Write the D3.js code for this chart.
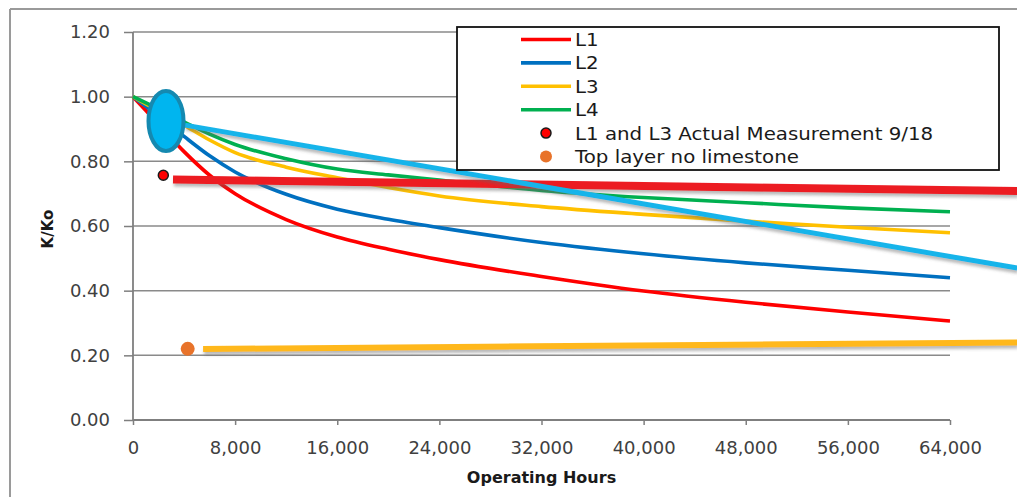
<!DOCTYPE html>
<html><head><meta charset="utf-8">
<script src="https://cdn.jsdelivr.net/npm/d3@7"></script>
<style>
html,body{margin:0;padding:0;background:#fff;}
svg{display:block;}
text{font-family:"DejaVu Sans",sans-serif;}
</style></head>
<body>
<svg id="chart" width="1017" height="497"></svg>
<script>
// ---------- data ----------
const hours = [0, 2000, 4000, 6000, 8000, 12000, 16000, 20000, 24000, 32000, 40000, 48000, 56000, 64000];
const seriesNames = ["L1", "L2", "L3", "L4"];
const L1 = [1.00, 0.915, 0.830, 0.757, 0.700, 0.620, 0.566, 0.528, 0.496, 0.444, 0.399, 0.364, 0.334, 0.306];
const L2 = [1.00, 0.940, 0.877, 0.817, 0.767, 0.698, 0.652, 0.621, 0.595, 0.549, 0.514, 0.486, 0.463, 0.440];
const L3 = [1.00, 0.956, 0.912, 0.866, 0.827, 0.782, 0.749, 0.719, 0.693, 0.660, 0.636, 0.615, 0.596, 0.579];
const L4 = [1.00, 0.962, 0.922, 0.884, 0.852, 0.808, 0.776, 0.758, 0.742, 0.710, 0.688, 0.672, 0.656, 0.644];
const seriesColors = ["#ff0000", "#0070c0", "#ffc000", "#00b050"];

const measurementPoint = [2375, 0.757];   // L1 and L3 Actual Measurement 9/18
const noLimestonePoint = [4285, 0.220];   // Top layer no limestone

const calloutEllipse = [2585, 0.925];
const calloutCyan = [[4070, 0.912], [69260, 0.470]];
const calloutRed = [[3134, 0.744], [69260, 0.708]];
const calloutOrange = [[5490, 0.2196], [69260, 0.240]];

const yTicks = [0, 0.2, 0.4, 0.6, 0.8, 1.0, 1.2];
const xTicks = [0, 8000, 16000, 24000, 32000, 40000, 48000, 56000, 64000];

const legendLabels = ["L1", "L2", "L3", "L4", "L1 and L3 Actual Measurement 9/18", "Top layer no limestone"];
const xTitle = "Operating Hours";
const yTitle = "K/Ko";

// ---------- chart ----------
const svg = d3.select("#chart");
const x = d3.scaleLinear().domain([0, 64000]).range([133, 950]);
const y = d3.scaleLinear().domain([0, 1.2]).range([420, 32]);

const defs = svg.append("defs");
const f = defs.append("filter").attr("id", "shadow").attr("x", "-10%").attr("y", "-200%").attr("width", "120%").attr("height", "500%");
f.append("feDropShadow").attr("dx", 1).attr("dy", 3).attr("stdDeviation", 1.6)
  .attr("flood-color", "#666").attr("flood-opacity", 0.45);

// outer frame
svg.append("line").attr("x1", 10).attr("x2", 10).attr("y1", 9).attr("y2", 497).attr("stroke", "#9a9a9a").attr("stroke-width", 2);
svg.append("line").attr("x1", 10).attr("x2", 1017).attr("y1", 9).attr("y2", 9).attr("stroke", "#9a9a9a").attr("stroke-width", 2);

// gridlines
svg.append("g").selectAll("line").data(yTicks.filter(d => d > 0)).join("line")
  .attr("x1", x(0)).attr("x2", x(64000)).attr("y1", d => y(d)).attr("y2", d => y(d))
  .attr("stroke", "#8a8a8a").attr("stroke-width", 1.5);

// axes
const yAxis = svg.append("g").attr("transform", `translate(${x(0)},0)`)
  .call(d3.axisLeft(y).tickValues(yTicks).tickFormat(d3.format(".2f")).tickSize(9).tickPadding(14));
const xAxis = svg.append("g").attr("transform", `translate(0,${y(0)})`)
  .call(d3.axisBottom(x).tickValues(xTicks).tickFormat(d3.format(",")).tickSize(5).tickPadding(16));
[yAxis, xAxis].forEach(g => {
  g.select(".domain").attr("stroke", "#7f7f7f").attr("stroke-width", 1.8);
  g.selectAll(".tick line").attr("stroke", "#7f7f7f").attr("stroke-width", 1.5);
  g.selectAll(".tick text").attr("font-size", 18).attr("fill", "#404040").style("font-family", '"DejaVu Sans",sans-serif');
});
yAxis.select(".domain").attr("d", `M0,${y(1.2)}V${y(0)}`);
xAxis.select(".domain").attr("d", `M${x(0)},0H${x(64000)}`);

// series lines
const lineGen = d3.line().x((d, i) => x(hours[i])).y(d => y(d)).curve(d3.curveMonotoneX);
const allSeries = [L1, L2, L3, L4];
svg.append("g").selectAll("path").data(allSeries).join("path")
  .attr("d", d => lineGen(d)).attr("fill", "none")
  .attr("stroke", (d, i) => seriesColors[i]).attr("stroke-width", 3.6);

// points
svg.append("circle").attr("cx", x(measurementPoint[0])).attr("cy", y(measurementPoint[1])).attr("r", 5)
  .attr("fill", "#ff0000").attr("stroke", "#1a1a1a").attr("stroke-width", 1.5);
svg.append("circle").attr("cx", x(noLimestonePoint[0])).attr("cy", y(noLimestonePoint[1])).attr("r", 7)
  .attr("fill", "#e8732a");

// callouts
const seg = d3.line().x(d => x(d[0])).y(d => y(d[1]));
svg.append("path").attr("d", seg(calloutOrange)).attr("stroke", "#ffb81c").attr("stroke-width", 6).attr("filter", "url(#shadow)");
svg.append("path").attr("d", seg(calloutRed)).attr("stroke", "#ec1c24").attr("stroke-width", 8).attr("filter", "url(#shadow)");
svg.append("path").attr("d", seg(calloutCyan)).attr("stroke", "#17b4ea").attr("stroke-width", 5).attr("filter", "url(#shadow)");
svg.append("ellipse").attr("cx", x(calloutEllipse[0])).attr("cy", y(calloutEllipse[1])).attr("rx", 17.5).attr("ry", 30)
  .attr("fill", "#00b5ef").attr("stroke", "#1589b0").attr("stroke-width", 4);

// legend
const lg = svg.append("g");
lg.append("rect").attr("x", 457).attr("y", 27).attr("width", 542).attr("height", 143)
  .attr("fill", "#fff").attr("stroke", "#111").attr("stroke-width", 1.8);
const rowY = i => 39.5 + i * 23.4;
legendLabels.forEach((lab, i) => {
  const cy = rowY(i);
  if (i < 4) {
    lg.append("line").attr("x1", 521).attr("x2", 571).attr("y1", cy).attr("y2", cy)
      .attr("stroke", seriesColors[i]).attr("stroke-width", 3.6);
  } else if (i === 4) {
    lg.append("circle").attr("cx", 546).attr("cy", cy).attr("r", 5).attr("fill", "#ff0000").attr("stroke", "#1a1a1a").attr("stroke-width", 1.5);
  } else {
    lg.append("circle").attr("cx", 546).attr("cy", cy).attr("r", 6).attr("fill", "#e8732a");
  }
  lg.append("text").attr("transform", `translate(575,${cy}) scale(1.1,1)`).attr("dy", "0.36em")
    .attr("font-size", 18).attr("fill", "#1a1a1a").text(lab);
});

// axis titles
svg.append("text").attr("x", x(32000)).attr("y", 483).attr("text-anchor", "middle")
  .attr("font-size", 16).attr("font-weight", "bold").attr("fill", "#1a1a1a").text(xTitle);
svg.append("text").attr("transform", "translate(53,229) rotate(-90)").attr("text-anchor", "middle")
  .attr("font-size", 15).attr("font-weight", "bold").attr("fill", "#1a1a1a").text(yTitle);
</script>
</body></html>
